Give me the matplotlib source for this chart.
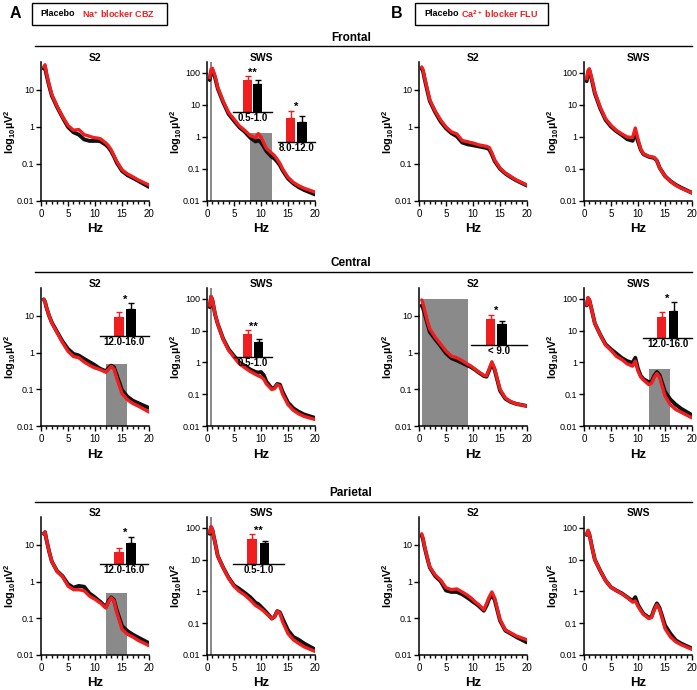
import matplotlib
matplotlib.use('Agg')
import matplotlib.pyplot as plt
from matplotlib.lines import Line2D
from matplotlib.patches import Rectangle

plt.rcParams['font.family'] = ['Liberation Sans', 'DejaVu Sans']
plt.rcParams['mathtext.default'] = 'regular'

# frequency grid (Hz)
freq = [0.5, 0.75, 1, 1.5, 2, 3, 4, 5, 6, 7, 8, 9, 9.5, 10, 10.5, 11, 12, 12.5, 13, 13.5, 14, 15, 16, 17, 18, 20]

# power spectra (uV^2), placebo (black) and drug (red)
frontal_s2_cbz_plc = [38, 42, 26, 13, 7, 3.4, 1.8, 1.0, 0.72, 0.62, 0.46, 0.42, 0.42, 0.42, 0.42, 0.41, 0.33, 0.28, 0.22, 0.16, 0.11, 0.065, 0.05, 0.042, 0.035, 0.024]
frontal_s2_cbz_drug = [42, 48, 29, 14, 7.5, 3.6, 1.9, 1.1, 0.82, 0.85, 0.62, 0.56, 0.53, 0.51, 0.5, 0.48, 0.37, 0.31, 0.24, 0.17, 0.12, 0.07, 0.054, 0.045, 0.037, 0.027]
frontal_sws_cbz_plc = [60, 110, 120, 70, 32, 12, 5.2, 3.2, 2.0, 1.45, 0.95, 0.72, 0.78, 0.68, 0.5, 0.36, 0.24, 0.21, 0.17, 0.13, 0.09, 0.05, 0.035, 0.027, 0.022, 0.016]
frontal_sws_cbz_drug = [70, 130, 140, 80, 35, 13, 5.8, 3.6, 2.2, 1.6, 1.1, 0.95, 1.28, 1.0, 0.65, 0.44, 0.31, 0.26, 0.2, 0.15, 0.1, 0.055, 0.038, 0.03, 0.025, 0.019]
frontal_s2_flu_plc = [38, 32, 21, 10, 5, 2.5, 1.4, 0.92, 0.68, 0.56, 0.38, 0.34, 0.33, 0.32, 0.31, 0.3, 0.28, 0.27, 0.25, 0.18, 0.12, 0.074, 0.055, 0.044, 0.036, 0.026]
frontal_s2_flu_drug = [42, 35, 23, 11, 5.4, 2.7, 1.55, 1.0, 0.74, 0.65, 0.43, 0.4, 0.38, 0.37, 0.35, 0.33, 0.31, 0.3, 0.28, 0.2, 0.13, 0.078, 0.057, 0.046, 0.037, 0.027]
frontal_sws_flu_plc = [55, 100, 120, 55, 23, 7.8, 3.4, 2.1, 1.5, 1.15, 0.85, 0.76, 1.35, 0.72, 0.4, 0.29, 0.24, 0.23, 0.22, 0.18, 0.11, 0.06, 0.042, 0.032, 0.026, 0.018]
frontal_sws_flu_drug = [65, 120, 135, 60, 25, 8.5, 3.7, 2.3, 1.6, 1.25, 1.0, 0.96, 1.9, 0.86, 0.42, 0.3, 0.25, 0.24, 0.23, 0.18, 0.11, 0.06, 0.041, 0.031, 0.025, 0.018]

central_s2_cbz_plc = [28, 24, 17, 10, 6.6, 3.6, 2.0, 1.25, 0.92, 0.83, 0.67, 0.55, 0.5, 0.45, 0.4, 0.36, 0.31, 0.38, 0.44, 0.4, 0.25, 0.095, 0.063, 0.049, 0.042, 0.031]
central_s2_cbz_drug = [28, 24, 17, 10, 6.4, 3.4, 1.85, 1.08, 0.78, 0.72, 0.55, 0.45, 0.41, 0.38, 0.36, 0.34, 0.29, 0.35, 0.42, 0.36, 0.21, 0.076, 0.052, 0.041, 0.035, 0.024]
central_sws_cbz_plc = [55, 115, 90, 32, 16, 5.5, 2.6, 1.6, 1.0, 0.78, 0.6, 0.5, 0.48, 0.5, 0.4, 0.25, 0.15, 0.16, 0.21, 0.2, 0.12, 0.055, 0.036, 0.028, 0.023, 0.018]
central_sws_cbz_drug = [60, 120, 95, 33, 16, 5.3, 2.4, 1.45, 0.9, 0.68, 0.52, 0.42, 0.38, 0.35, 0.3, 0.21, 0.14, 0.15, 0.2, 0.18, 0.1, 0.047, 0.031, 0.024, 0.02, 0.016]
central_s2_flu_plc = [19, 16, 12, 6.5, 3.6, 2.3, 1.5, 0.95, 0.7, 0.61, 0.52, 0.44, 0.41, 0.37, 0.33, 0.29, 0.23, 0.22, 0.33, 0.5, 0.34, 0.092, 0.055, 0.045, 0.04, 0.035]
central_s2_flu_drug = [27, 21, 15, 7.5, 4.4, 2.6, 1.7, 1.1, 0.8, 0.72, 0.6, 0.48, 0.44, 0.39, 0.34, 0.3, 0.24, 0.23, 0.36, 0.56, 0.37, 0.1, 0.058, 0.046, 0.04, 0.035]
central_sws_flu_plc = [62, 105, 90, 40, 17, 7.5, 3.7, 2.6, 1.9, 1.38, 1.1, 0.97, 1.4, 0.63, 0.38, 0.3, 0.24, 0.25, 0.38, 0.5, 0.4, 0.12, 0.068, 0.047, 0.035, 0.022]
central_sws_flu_drug = [65, 110, 92, 40, 17, 7.3, 3.5, 2.4, 1.55, 1.23, 0.9, 0.76, 1.1, 0.53, 0.35, 0.28, 0.2, 0.22, 0.34, 0.45, 0.34, 0.088, 0.047, 0.033, 0.027, 0.018]

parietal_s2_cbz_plc = [20, 22, 14, 6.6, 3.5, 1.9, 1.4, 0.85, 0.68, 0.76, 0.72, 0.47, 0.42, 0.37, 0.32, 0.28, 0.2, 0.3, 0.37, 0.32, 0.17, 0.062, 0.045, 0.036, 0.03, 0.021]
parietal_s2_cbz_drug = [20, 22, 14, 6.6, 3.5, 1.85, 1.35, 0.75, 0.6, 0.6, 0.56, 0.4, 0.36, 0.33, 0.29, 0.26, 0.19, 0.28, 0.36, 0.3, 0.15, 0.05, 0.037, 0.031, 0.025, 0.018]
parietal_sws_cbz_plc = [65, 105, 85, 34, 13, 5.6, 2.7, 1.55, 1.2, 0.9, 0.66, 0.44, 0.4, 0.33, 0.27, 0.22, 0.14, 0.16, 0.24, 0.22, 0.14, 0.06, 0.037, 0.03, 0.023, 0.015]
parietal_sws_cbz_drug = [70, 110, 90, 34, 13, 5.5, 2.6, 1.45, 1.0, 0.77, 0.54, 0.36, 0.32, 0.28, 0.24, 0.2, 0.14, 0.16, 0.24, 0.21, 0.11, 0.047, 0.03, 0.023, 0.018, 0.013]
parietal_s2_flu_plc = [18, 14, 9, 4.5, 2.4, 1.4, 1.02, 0.57, 0.52, 0.52, 0.45, 0.36, 0.32, 0.28, 0.25, 0.22, 0.16, 0.22, 0.34, 0.42, 0.32, 0.086, 0.046, 0.038, 0.031, 0.022]
parietal_s2_flu_drug = [20, 15, 9.5, 4.7, 2.5, 1.5, 1.1, 0.68, 0.6, 0.63, 0.52, 0.42, 0.37, 0.32, 0.27, 0.24, 0.17, 0.25, 0.38, 0.52, 0.36, 0.092, 0.048, 0.04, 0.033, 0.026]
parietal_sws_flu_plc = [60, 80, 62, 24, 10, 4.5, 2.2, 1.35, 1.07, 0.87, 0.66, 0.5, 0.66, 0.38, 0.27, 0.2, 0.15, 0.16, 0.28, 0.42, 0.3, 0.086, 0.047, 0.029, 0.023, 0.016]
parietal_sws_flu_drug = [62, 84, 62, 24, 10, 4.5, 2.2, 1.35, 1.05, 0.85, 0.64, 0.46, 0.5, 0.34, 0.25, 0.19, 0.14, 0.15, 0.26, 0.38, 0.27, 0.068, 0.037, 0.026, 0.021, 0.015]

# shaded frequency bands (lo Hz, hi Hz, top value or None = full height)
bands_frontal_sws_cbz = [(0.5, 1.0, None), (8.0, 12.0, 1.3)]
bands_central_s2_cbz = [(12.0, 16.0, 0.49)]
bands_central_sws_cbz = [(0.5, 1.0, None)]
bands_central_s2_flu = [(0.5, 9.0, 29)]
bands_central_sws_flu = [(12.0, 16.0, 0.62)]
bands_parietal_s2_cbz = [(12.0, 16.0, 0.49)]
bands_parietal_sws_cbz = [(0.5, 1.0, None)]

# inset bar values: drug (red) and placebo (black), upper errors, stars, band label
inset_labels = ['0.5-1.0', '8.0-12.0', '12.0-16.0', '0.5-1.0', '< 9.0', '12.0-16.0', '12.0-16.0', '0.5-1.0']
inset_red = [55, 4.0, 9, 60, 8, 25, 5, 36]
inset_black = [48, 3.4, 12.5, 40, 6.5, 33, 9, 30]
inset_red_err = [6, 1.2, 2.4, 10, 1.3, 6, 1.7, 6]
inset_black_err = [6, 1.0, 2.9, 6, 1.0, 10, 2.5, 3]
inset_stars = ['**', '*', '*', '**', '*', '*', '*', '**']

RED = '#f01e1e'
GRAY = '#8a8a8a'
W, H = 697, 690

fig = plt.figure(figsize=(W / 100, H / 100), dpi=100)


def px_axes(left, top, right, bottom):
    return fig.add_axes([left / W, 1 - bottom / H, (right - left) / W, (bottom - top) / H])


cols = [(41, 149), (207, 315), (419, 527), (584, 692)]
rows = [(62, 201), (288, 426), (517, 655)]

spectra = [
    [(frontal_s2_cbz_plc, frontal_s2_cbz_drug, []), (frontal_sws_cbz_plc, frontal_sws_cbz_drug, bands_frontal_sws_cbz),
     (frontal_s2_flu_plc, frontal_s2_flu_drug, []), (frontal_sws_flu_plc, frontal_sws_flu_drug, [])],
    [(central_s2_cbz_plc, central_s2_cbz_drug, bands_central_s2_cbz), (central_sws_cbz_plc, central_sws_cbz_drug, bands_central_sws_cbz),
     (central_s2_flu_plc, central_s2_flu_drug, bands_central_s2_flu), (central_sws_flu_plc, central_sws_flu_drug, bands_central_sws_flu)],
    [(parietal_s2_cbz_plc, parietal_s2_cbz_drug, bands_parietal_s2_cbz), (parietal_sws_cbz_plc, parietal_sws_cbz_drug, bands_parietal_sws_cbz),
     (parietal_s2_flu_plc, parietal_s2_flu_drug, []), (parietal_sws_flu_plc, parietal_sws_flu_drug, [])],
]

for r, (top, bottom) in enumerate(rows):
    for c, (left, right) in enumerate(cols):
        plc, drug, bands = spectra[r][c]
        sws = c % 2 == 1
        ymax = 219 if sws else 57
        ax = px_axes(left, top, right, bottom)
        ax.set_yscale('log')
        for lo, hi, btop in bands:
            ax.fill_between([lo, hi], 0.01, btop if btop else ymax, color=GRAY, lw=0, zorder=1)
        ax.plot(freq, plc, color='#111111', lw=2.8, zorder=3, solid_capstyle='round')
        ax.plot(freq, drug, color=RED, lw=2.4, zorder=4, solid_capstyle='round')
        ax.set_xlim(0, 20)
        ax.set_ylim(0.01, ymax)
        ticks = [0.01, 0.1, 1, 10, 100] if sws else [0.01, 0.1, 1, 10]
        ax.set_yticks(ticks)
        ax.set_yticklabels(['0.01', '0.1', '1', '10', '100'][:len(ticks)])
        ax.yaxis.set_minor_locator(matplotlib.ticker.NullLocator())
        ax.set_xticks([0, 5, 10, 15, 20])
        ax.set_xticks(range(21), minor=True)
        ax.tick_params(which='major', length=3.5, width=1, pad=1.2, labelsize=6.5)
        ax.tick_params(which='minor', length=2, width=1)
        ax.tick_params(axis='x', which='major', pad=2.5, labelsize=7)
        for s in ['top', 'right']:
            ax.spines[s].set_visible(False)
        for s in ['left', 'bottom']:
            ax.spines[s].set_linewidth(1.1)
        ax.set_xlabel('Hz', fontsize=9.5, fontweight='bold', labelpad=3)
        ax.set_ylabel('log$_{10}$µV$^2$', fontsize=7.8, fontweight='bold')
        ax.yaxis.set_label_coords(-0.215, 0.5)
        ax.annotate('SWS' if sws else 'S2', (0.5, 1.0), xycoords='axes fraction', xytext=(0, -1),
                    textcoords='offset points', ha='center', va='bottom', fontsize=7.5, fontweight='bold')

# inset bar charts: baseline x0, x1, baseline y, red centre, black centre, ymax
inset_boxes = [(233, 272, 112, 247.5, 257.5, 77), (278, 315, 142, 290.5, 302, 7.5),
               (100, 149, 336, 119, 131, 21), (234, 272, 357, 247.5, 258.5, 117),
               (471, 527, 345, 490.5, 502, 13.8), (643, 692, 338, 661.5, 673.5, 54),
               (100, 148, 564, 119, 131, 19), (233, 284, 564, 252, 264.5, 64)]

for i, (x0, x1, base, cr, cb, ymax) in enumerate(inset_boxes):
    ax = px_axes(x0, base - 45, x1, base)
    unit = cb - cr
    ax.set_xlim((x0 - cr) / unit, (x1 - cr) / unit)
    ax.set_ylim(0, ymax)
    ax.bar([0, 1], [inset_red[i], inset_black[i]], width=9.5 / unit, color=[RED, 'black'], zorder=2)
    ax.errorbar([0], [inset_red[i]], yerr=[[0], [inset_red_err[i]]], fmt='none', ecolor=RED, elinewidth=1, capsize=2, capthick=1)
    ax.errorbar([1], [inset_black[i]], yerr=[[0], [inset_black_err[i]]], fmt='none', ecolor='black', elinewidth=1, capsize=2, capthick=1)
    for s in ['top', 'right', 'left']:
        ax.spines[s].set_visible(False)
    ax.spines['bottom'].set_linewidth(1)
    ax.set_xticks([])
    ax.set_yticks([])
    ax.patch.set_alpha(0)
    hi = max(inset_red[i] + inset_red_err[i], inset_black[i] + inset_black_err[i])
    ax.annotate(inset_stars[i], (0.5, hi), xytext=(0, -1), textcoords='offset points',
                ha='center', va='bottom', fontsize=8, fontweight='bold')
    ax.annotate(inset_labels[i], (0.5, 0), xycoords='axes fraction', xytext=(0, -1),
                textcoords='offset points', ha='center', va='top', fontsize=7, fontweight='bold')

# section headers
for name, ty, ly in [('Frontal', 38, 46), ('Central', 263, 272), ('Parietal', 493, 502)]:
    fig.text(351 / W, 1 - ty / H, name, ha='center', va='center', fontsize=8.5, fontweight='bold')
    fig.add_artist(Line2D([35 / W, 692 / W], [1 - ly / H, 1 - ly / H], color='black', lw=1))

# legends
for letter, lx, box, drug_label, tx0, tx1 in [('A', 15, (32, 167), 'Na$^{+}$ blocker CBZ', 40, 82),
                                              ('B', 397, (415, 548), 'Ca$^{2+}$ blocker FLU', 424, 461)]:
    fig.text(lx / W, 1 - 14 / H, letter, ha='center', va='center', fontsize=11.5, fontweight='bold')
    fig.add_artist(Rectangle((box[0] / W, 1 - 25 / H), (box[1] - box[0]) / W, 22 / H,
                             fill=False, edgecolor='black', lw=1, transform=fig.transFigure))
    fig.text(tx0 / W, 1 - 14 / H, 'Placebo', ha='left', va='center', fontsize=6.5, fontweight='bold')
    fig.text(tx1 / W, 1 - 14 / H, drug_label, ha='left', va='center', fontsize=6.5, fontweight='bold', color=RED)

fig.savefig('out.png', dpi=100)
